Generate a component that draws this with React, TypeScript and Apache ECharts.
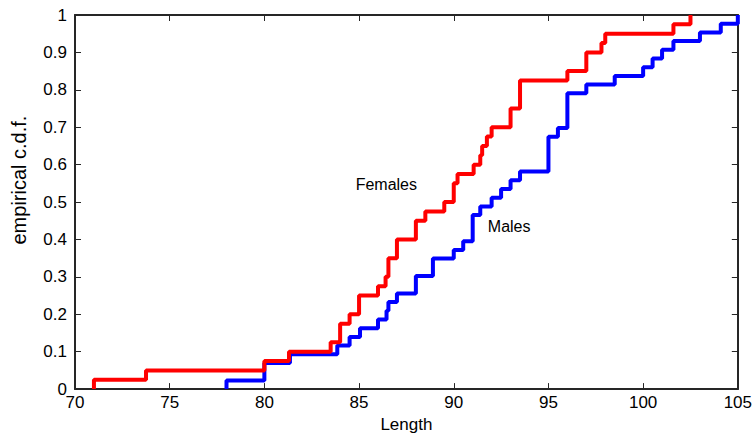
import React, { useEffect, useRef } from "react";
import * as echarts from "echarts";

// Distinct observed lengths and number of observations at each
const femaleLengths = [71.0, 73.75, 80.0, 81.3, 83.5, 84.0, 84.5, 85.0, 86.0, 86.4, 86.55, 87.0, 88.0, 88.5, 89.5, 90.0, 90.2, 91.05, 91.4, 91.5, 91.75, 92.0, 93.0, 93.5, 96.0, 97.0, 97.8, 98.0, 101.6, 102.5];
const femaleCounts = [1, 1, 1, 1, 1, 2, 1, 2, 1, 1, 2, 2, 2, 1, 1, 2, 1, 1, 1, 1, 1, 1, 2, 3, 1, 2, 1, 1, 1, 1];

const maleLengths = [78.0, 80.0, 81.35, 83.85, 84.5, 85.05, 86.0, 86.45, 86.55, 87.0, 88.0, 88.9, 90.0, 90.5, 91.0, 91.4, 92.0, 92.5, 93.0, 93.5, 95.0, 95.5, 96.0, 97.0, 98.5, 100.0, 100.5, 101.0, 101.6, 103.0, 104.1, 105.0];
const maleCounts = [1, 2, 1, 1, 1, 1, 1, 1, 1, 1, 2, 2, 1, 1, 3, 1, 1, 1, 1, 1, 4, 1, 4, 1, 1, 1, 1, 1, 1, 1, 1, 1];

const seriesNames = ["Females", "Males"];
const labelCoords = [
  [84.82, 0.548],
  [91.8, 0.435],
];

function ecdf(lengths: number[], counts: number[]) {
  const n = counts.reduce((a, b) => a + b, 0);
  const pts: number[][] = [[lengths[0], 0]];
  let c = 0;
  lengths.forEach((x, i) => {
    c += counts[i];
    pts.push([x, c / n]);
  });
  return pts;
}

const FONT = "'Liberation Sans', Arial, Helvetica, sans-serif";
const AXIS_COLOR = "#262626";

export default function App() {
  const ref = useRef<HTMLDivElement>(null);
  useEffect(() => {
    if (!ref.current) return;
    const chart = echarts.init(ref.current, undefined, { renderer: "svg" });
    const axisCommon = {
      axisLine: { show: true, onZero: false, lineStyle: { color: AXIS_COLOR, width: 2 } },
      axisTick: { show: true, inside: true, length: 6, lineStyle: { color: AXIS_COLOR, width: 1 } },
      splitLine: { show: false },
    };
    const mk = (name: string, coord: number[]) => ({
      symbol: "circle",
      symbolSize: 0,
      silent: true,
      label: {
        show: true,
        position: "right",
        distance: 0,
        formatter: name,
        color: "#000",
        fontSize: 16,
        fontFamily: FONT,
      },
      data: [{ coord }],
    });
    chart.setOption({
      animation: false,
      backgroundColor: "#fff",
      grid: { left: 75, right: 12, top: 15, bottom: 41, containLabel: false },
      xAxis: [
        {
          type: "value",
          min: 70,
          max: 105,
          interval: 5,
          position: "bottom",
          name: "Length",
          nameLocation: "middle",
          nameGap: 23,
          nameTextStyle: { color: "#000", fontSize: 17, fontFamily: FONT },
          axisLabel: { color: "#000", fontSize: 17, fontFamily: FONT, margin: 5 },
          ...axisCommon,
        },
        {
          type: "value",
          min: 70,
          max: 105,
          interval: 5,
          position: "top",
          axisLabel: { show: false },
          ...axisCommon,
        },
      ],
      yAxis: [
        {
          type: "value",
          min: 0,
          max: 1,
          interval: 0.1,
          position: "left",
          name: "empirical c.d.f.",
          nameLocation: "middle",
          nameGap: 46,
          nameTextStyle: { color: "#000", fontSize: 20, fontFamily: FONT, padding: [0, 0, 0, 44] },
          axisLabel: { color: "#000", fontSize: 17, fontFamily: FONT, margin: 8 },
          ...axisCommon,
        },
        {
          type: "value",
          min: 0,
          max: 1,
          interval: 0.1,
          position: "right",
          axisLabel: { show: false },
          ...axisCommon,
        },
      ],
      series: [
        {
          name: seriesNames[0],
          type: "line",
          step: "end",
          showSymbol: false,
          symbol: "none",
          lineStyle: { color: "#ff0000", width: 4 },
          itemStyle: { color: "#ff0000" },
          data: ecdf(femaleLengths, femaleCounts),
          markPoint: mk(seriesNames[0], labelCoords[0]),
          z: 3,
        },
        {
          name: seriesNames[1],
          type: "line",
          step: "end",
          showSymbol: false,
          symbol: "none",
          lineStyle: { color: "#0000ff", width: 4 },
          itemStyle: { color: "#0000ff" },
          data: ecdf(maleLengths, maleCounts),
          markPoint: mk(seriesNames[1], labelCoords[1]),
          z: 2,
        },
      ],
    });
    return () => chart.dispose();
  }, []);
  return (
    <div
      ref={ref}
      style={{ position: "fixed", left: 0, top: 0, width: 755, height: 438, background: "#fff" }}
    />
  );
}
